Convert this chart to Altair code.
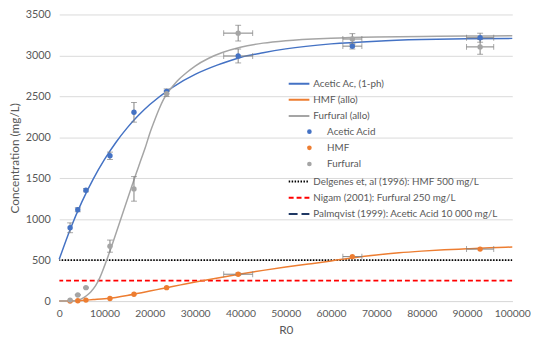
import altair as alt
import pandas as pd

# ---- measured points ----
r0 = [2400, 4100, 5900, 11200, 16500, 23700, 39500, 64700, 92900]
r0_err = [0, 0, 0, 0, 0, 0, 3200, 2100, 3000]
acetic = [895, 1115, 1354, 1774, 2305, 2561, 2993, 3113, 3216]
acetic_err = [60, 25, 20, 45, 120, 30, 85, 35, 55]
hmf = [0, 4, 12, 32, 84, 164, 328, 543, 635]
hmf_err = [0, 0, 0, 0, 0, 0, 15, 0, 0]
furfural = [12, 75, 164, 671, 1370, 2533, 3272, 3200, 3104]
furfural_err = [0, 5, 5, 74, 150, 35, 96, 66, 90]

# ---- fitted curves ----
fit_ac_x = [0, 2500, 5000, 7500, 10000, 12500, 15000, 17500, 20000, 25000, 30000,
            35000, 40000, 45000, 50000, 60000, 70000, 80000, 90000, 100000]
fit_ac_y = [510, 887, 1211, 1490, 1730, 1937, 2115, 2268, 2400, 2611, 2768,
            2884, 2975, 3033, 3080, 3141, 3174, 3193, 3203, 3208]
fit_hmf_x = [0, 2500, 5000, 7500, 10000, 12500, 15000, 17500, 20000, 22500, 25000,
             27500, 30000, 32500, 35000, 40000, 45000, 50000, 55000, 60000, 65000,
             70000, 75000, 80000, 85000, 90000, 95000, 100000]
fit_hmf_y = [0, 1, 8, 18, 28, 45, 68, 95, 122, 150, 178,
             205, 232, 258, 283, 330, 375, 415, 452, 490, 530,
             563, 590, 610, 626, 638, 650, 660]
fit_fu_x = [0, 2000, 3000, 4000, 5000, 6000, 7000, 8000, 9000, 10000, 11000, 12000,
            13000, 14000, 15000, 16000, 17000, 18000, 19000, 20000, 21000, 22000,
            23000, 24000, 25000, 26000, 28000, 30000, 33000, 36000, 40000, 45000,
            50000, 60000, 70000, 80000, 90000, 100000]
fit_fu_y = [0, 0, 2, 10, 30, 65, 115, 185, 290, 430, 580, 740,
            905, 1070, 1235, 1400, 1560, 1720, 1875, 2050, 2200, 2340,
            2460, 2550, 2620, 2685, 2785, 2870, 2965, 3035, 3100, 3150,
            3180, 3210, 3225, 3232, 3236, 3240]

# ---- reference limits ----
ref_names = ["Delgenes et, al (1996): HMF 500 mg/L",
             "Nigam (2001): Furfural 250 mg/L",
             "Palmqvist (1999): Acetic Acid 10 000 mg/L"]
ref_values = [500, 250, 10000]

curve_names = ["Acetic Ac, (1-ph)", "HMF (allo)", "Furfural (allo)"]
point_names = ["Acetic Acid", "HMF", "Furfural"]
colors = ["#4472C4", "#ED7D31", "#A5A5A5"]
ref_colors = ["#000000", "#FF0000", "#1F3864"]
ref_dash = [[1.5, 1.5], [5, 3], [9, 4]]

FONT = "Lato"
TXT = "#595959"
ERR = "#808080"

curves = pd.concat([
    pd.DataFrame({"x": fit_ac_x, "y": fit_ac_y, "series": curve_names[0]}),
    pd.DataFrame({"x": fit_hmf_x, "y": fit_hmf_y, "series": curve_names[1]}),
    pd.DataFrame({"x": fit_fu_x, "y": fit_fu_y, "series": curve_names[2]}),
])
pts = pd.concat([
    pd.DataFrame({"x": r0, "xerr": r0_err, "y": acetic, "yerr": acetic_err, "series": point_names[0]}),
    pd.DataFrame({"x": r0, "xerr": r0_err, "y": hmf, "yerr": hmf_err, "series": point_names[1]}),
    pd.DataFrame({"x": r0, "xerr": r0_err, "y": furfural, "yerr": furfural_err, "series": point_names[2]}),
], ignore_index=True)
pts["ylo"] = pts["y"] - pts["yerr"]
pts["yhi"] = pts["y"] + pts["yerr"]
pts["xlo"] = pts["x"] - pts["xerr"]
pts["xhi"] = pts["x"] + pts["xerr"]
yb = pts[pts["yerr"] > 0]
xb = pts[pts["xerr"] > 0]
ycaps = pd.concat([yb.assign(cy=yb["ylo"]), yb.assign(cy=yb["yhi"])])
xcaps = pd.concat([xb.assign(cx=xb["xlo"]), xb.assign(cx=xb["xhi"])])
refs = pd.DataFrame({"name": ref_names, "value": ref_values})

xscale = alt.Scale(domain=[0, 100000], nice=False)
yscale = alt.Scale(domain=[0, 3500], nice=False)
xaxis = alt.Axis(values=list(range(0, 100001, 10000)), format="d", grid=False, ticks=False,
                 domain=True, domainColor="#D9D9D9", labelPadding=8, labelOverlap=False,
                 labelFlush=False, labelFontSize=10.5, title="R0", titlePadding=5)
yaxis = alt.Axis(values=list(range(0, 3501, 500)), format="d", grid=True, gridColor="#D9D9D9",
                 ticks=False, domain=False, labelPadding=9, labelOverlap=False, labelFlush=False,
                 title="Concentration (mg/L)", titlePadding=4)


def X(f="x"):
    return alt.X(f"{f}:Q", scale=xscale, axis=xaxis)


def Y(f="y"):
    return alt.Y(f"{f}:Q", scale=yscale, axis=yaxis)


leg_common = dict(orient="none", title=None, labelFont=FONT, labelFontSize=10, labelColor=TXT,
                  padding=0, rowPadding=4.4, clipHeight=12, labelLimit=400)

line_leg = dict(symbolType="stroke", symbolSize=441, symbolStrokeWidth=2, labelOffset=3)

curve_layer = alt.Chart(curves).mark_line(strokeWidth=1.5, interpolate="monotone").encode(
    x=X(), y=Y(), detail="series:N",
    color=alt.Color("series:N", scale=alt.Scale(domain=curve_names, range=colors),
                    legend=alt.Legend(legendX=232, legendY=64.3, **line_leg, **leg_common)),
)

ref_legend = alt.Legend(legendX=232, legendY=163.7, **line_leg, **leg_common)
ref_layer = alt.Chart(refs).mark_rule(clip=True, strokeWidth=1.8).encode(
    y=Y("value"),
    stroke=alt.Stroke("name:N", scale=alt.Scale(domain=ref_names, range=ref_colors), legend=ref_legend),
    strokeDash=alt.StrokeDash("name:N", scale=alt.Scale(domain=ref_names, range=ref_dash), legend=ref_legend),
)

yerr_layer = alt.Chart(yb).mark_rule(color=ERR, strokeWidth=1).encode(
    x=X(), y=Y("ylo"), y2="yhi:Q")
ycap_layer = alt.Chart(ycaps).mark_tick(color=ERR, orient="horizontal", size=6, thickness=1).encode(
    x=X(), y=Y("cy"))
xerr_layer = alt.Chart(xb).mark_rule(color=ERR, strokeWidth=1).encode(
    x=X("xlo"), x2="xhi:Q", y=Y())
xcap_layer = alt.Chart(xcaps).mark_tick(color=ERR, orient="vertical", size=6, thickness=1).encode(
    x=X("cx"), y=Y())

point_layer = alt.Chart(pts).mark_circle(size=30, opacity=1).encode(
    x=X(), y=Y(),
    fill=alt.Fill("series:N", scale=alt.Scale(domain=point_names, range=colors),
                  legend=alt.Legend(symbolType="circle", symbolSize=22, legendX=249, legendY=113,
                                    labelOffset=13, **leg_common)),
)

chart = alt.layer(
    ref_layer, curve_layer, yerr_layer, ycap_layer, xerr_layer, xcap_layer, point_layer
).properties(
    width=460, height=291,
    autosize=alt.AutoSizeParams(type="none"),
    padding={"left": 52, "top": 4, "right": 19, "bottom": 40},
).configure_view(stroke=None).configure_axis(
    labelFont=FONT, labelFontSize=11, labelColor=TXT,
    titleFont=FONT, titleFontSize=12, titleColor=TXT, titleFontWeight="normal",
)

chart.save("out.html", embed_options={"renderer": "svg", "actions": False})
